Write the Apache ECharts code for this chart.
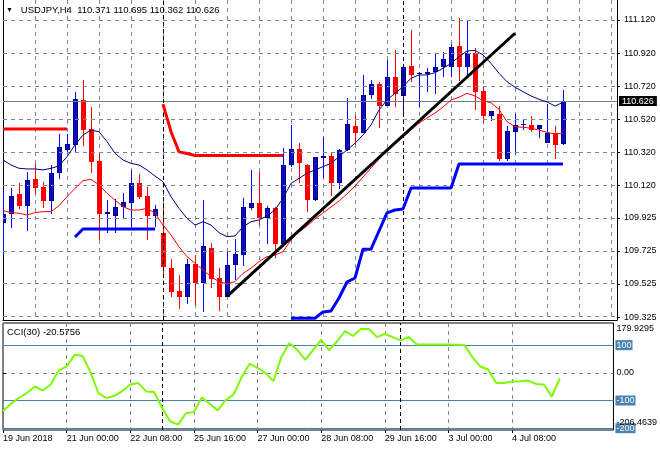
<!DOCTYPE html>
<html><head><meta charset="utf-8">
<script src="https://cdn.jsdelivr.net/npm/echarts@6/dist/echarts.min.js"></script>
<style>html,body{margin:0;padding:0;background:#fff}#c{width:660px;height:450px}</style>
</head><body><div id="c"></div>
<script>
const symbolName = 'USDJPY,H4';
const timeLabels = ['19 Jun 2018','21 Jun 00:00','22 Jun 08:00','25 Jun 16:00','27 Jun 00:00','28 Jun 08:00','29 Jun 16:00','3 Jul 00:00','4 Jul 08:00'];
const labelStep = 8;
const open = [109.895,109.946,110.067,109.998,110.159,110.111,110.028,110.194,110.333,110.365,
110.637,110.461,110.268,109.948,109.938,109.988,110.016,110.133,110.056,109.938,
109.835,109.620,109.483,109.448,109.646,109.533,109.742,109.563,109.448,109.640,
109.700,109.982,110.012,109.925,109.982,109.767,110.244,110.339,110.244,110.032,
110.288,110.298,110.133,110.334,110.479,110.439,110.667,110.733,110.602,110.777,
110.663,110.842,110.792,110.794,110.808,110.834,110.838,110.963,110.834,110.919,
110.691,110.540,110.552,110.280,110.445,110.484,110.486,110.461,110.379,110.435,
110.371];
const high = [110.093,110.103,110.133,110.200,110.248,110.143,110.244,110.431,110.431,110.683,
110.757,110.596,110.321,110.032,110.037,110.073,110.214,110.188,110.113,110.002,
110.012,109.674,109.579,109.674,109.698,110.032,109.774,109.620,109.720,109.795,
110.043,110.214,110.203,109.996,109.988,110.345,110.486,110.375,110.250,110.294,
110.415,110.321,110.340,110.647,110.540,110.788,110.757,110.747,110.878,110.939,
110.848,111.060,110.808,110.828,110.919,110.928,110.975,111.130,111.116,110.949,
110.717,110.570,110.600,110.479,110.552,110.516,110.540,110.486,110.611,110.479,
110.695];
const low = [109.700,109.861,109.976,109.847,110.069,109.986,109.948,110.157,110.320,110.324,
110.359,110.197,109.791,109.835,109.831,109.925,109.861,110.037,109.791,109.871,
109.569,109.448,109.372,109.404,109.398,109.357,109.499,109.363,109.445,109.549,
109.635,109.972,109.881,109.767,109.680,109.750,110.234,110.137,109.958,110.028,
110.163,110.056,110.100,110.330,110.365,110.435,110.641,110.466,110.600,110.596,
110.546,110.747,110.596,110.687,110.673,110.777,110.777,110.750,110.777,110.576,
110.496,110.510,110.268,110.268,110.310,110.455,110.445,110.405,110.379,110.280,
110.362];
const close = [109.948,110.057,109.996,110.153,110.103,110.028,110.194,110.351,110.371,110.643,
110.455,110.264,109.948,109.962,109.992,110.018,110.133,110.052,109.938,109.976,
109.626,109.478,109.448,109.646,109.533,109.754,109.555,109.448,109.640,109.706,
109.992,110.012,109.922,109.982,109.767,110.244,110.339,110.254,110.032,110.290,
110.298,110.133,110.334,110.492,110.439,110.667,110.733,110.602,110.777,110.671,
110.838,110.788,110.802,110.808,110.834,110.882,110.955,110.834,110.919,110.687,
110.540,110.570,110.280,110.449,110.486,110.490,110.455,110.486,110.435,110.365,
110.626];
const maNavy = [110.274,110.244,110.224,110.220,110.220,110.214,110.224,110.238,110.294,110.365,
110.425,110.455,110.445,110.385,110.315,110.274,110.254,110.244,110.214,110.177,
110.143,110.052,109.982,109.922,109.881,109.901,109.881,109.835,109.811,109.815,
109.871,109.901,109.912,109.936,109.972,110.043,110.133,110.163,110.194,110.214,
110.234,110.254,110.294,110.335,110.375,110.425,110.486,110.576,110.637,110.677,
110.717,110.768,110.788,110.788,110.802,110.828,110.858,110.898,110.933,110.936,
110.909,110.858,110.798,110.747,110.713,110.687,110.661,110.641,110.625,110.600,
110.623];
const maRed = [109.968,109.956,109.952,109.942,109.956,109.962,109.962,109.998,110.052,110.103,
110.149,110.157,110.123,110.073,110.032,109.992,109.972,109.972,109.982,109.952,
109.881,109.821,109.750,109.690,109.650,109.609,109.569,109.539,109.525,109.539,
109.589,109.620,109.660,109.690,109.700,109.720,109.791,109.839,109.875,109.918,
109.954,109.990,110.026,110.069,110.117,110.171,110.226,110.280,110.329,110.371,
110.413,110.455,110.498,110.528,110.558,110.594,110.637,110.653,110.677,110.661,
110.632,110.620,110.580,110.506,110.475,110.472,110.466,110.455,110.441,110.431,
110.437];
const stopDown = [110.461,110.461,110.461,110.461,110.461,110.461,110.461,110.461,110.461,null,
null,null,null,null,null,null,null,null,null,null,
110.612,110.445,110.323,110.313,110.301,110.301,110.301,110.301,110.301,110.301,
110.301,110.301,110.301,110.301,110.301,110.301,null,null,null,null,
null,null,null,null,null,null,null,null,null,null,
null,null,null,null,null,null,null,null,null,null,
null,null,null,null,null,null,null,null,null,null,
null];
const stopUp = [null,null,null,null,null,null,null,null,null,109.809,
109.857,109.857,109.857,109.857,109.857,109.857,109.857,109.857,109.857,109.857,
null,null,null,null,null,null,null,null,null,null,
null,null,null,null,null,null,109.318,109.318,109.318,109.318,
109.356,109.362,109.440,109.537,109.561,109.735,109.735,109.845,109.954,109.972,
109.978,110.105,110.105,110.105,110.105,110.105,110.105,110.250,110.250,110.250,
110.250,110.250,110.250,110.250,110.250,110.250,110.250,110.250,110.250,110.250,
110.250];
const trendX = [28, 64];
const trendY = [109.45, 111.04];
const cci = [-139,-112,-90,-73,-49,-64,-42,8,23,65,
61,2,-73,-91,-83,-66,-42,-37,-67,-69,
-126,-175,-187,-146,-141,-89,-112,-136,-98,-78,
-16,33,18,-1,-30,57,107,83,47,83,
119,81,114,151,133,158,158,129,140,129,
117,130,102,102,102,102,102,101,100,57,
23,12,-37,-37,-31,-30,-28,-40,-42,-86,
-20.5756];
const cciPeriod = 30;
const cciLevels = [100, -100, -200];
const priceTicks = [111.12, 110.92, 110.72, 110.52, 110.32, 110.12, 109.925, 109.725, 109.525, 109.325];
const priceMin = 109.3073, priceMax = 111.2408;
const cciMin = -206.4639, cciMax = 179.9295;
const weekSeps = [20, 50];
const xMax = 76.75;

const FONT = '"Liberation Sans", Arial, sans-serif';
const GRID_C = '#778899';
const LEVEL_C = '#4682b4';
const DASH = [4, 4];
const n = close.length;
const last = n - 1;
const pair = arr => arr.map((v, i) => [i, v]);

function renderCandle(params, api) {
  const i = api.value(0), o = api.value(1), c = api.value(2), l = api.value(3), h = api.value(4);
  const pH = api.coord([i, h]), pL = api.coord([i, l]), pO = api.coord([i, o]), pC = api.coord([i, c]);
  const cx = Math.round(pH[0]);
  const bull = c >= o;
  const yH = Math.round(pH[1]), yL = Math.round(pL[1]);
  const top = Math.round(Math.min(pO[1], pC[1])), bot = Math.round(Math.max(pO[1], pC[1]));
  const bh = Math.max(1, bot - top);
  const ch = [{type: 'rect', shape: {x: cx, y: yH, width: 1, height: Math.max(1, yL - yH)}, style: {fill: bull ? '#0000ff' : '#ff0000'}}];
  if (bull) {
    ch.push({type: 'rect', shape: {x: cx - 2, y: top, width: 5, height: bh}, style: {fill: '#000080'}});
    if (bh > 2) ch.push({type: 'rect', shape: {x: cx - 1, y: top + 1, width: 3, height: bh - 2}, style: {fill: '#0a0ac8'}});
  } else {
    ch.push({type: 'rect', shape: {x: cx - 2, y: top, width: 5, height: bh}, style: {fill: '#ff0000'}});
  }
  return {type: 'group', children: ch};
}

const header = '{t|▼}   ' + symbolName + '  ' + [open[last], high[last], low[last], close[last]].map(v => v.toFixed(3)).join(' ');
const cciTitle = 'CCI(' + cciPeriod + ') ' + cci[last].toFixed(4);

const lineBase = {type: 'line', showSymbol: false, symbol: 'none', animation: false, silent: true};
const levelLabel = {show: true, position: 'end', distance: 2, backgroundColor: LEVEL_C, color: '#fff',
  fontSize: 9, padding: [1, 1, 0, 1], fontFamily: FONT};

const option = {
  backgroundColor: '#ffffff',
  animation: false,
  textStyle: {fontFamily: FONT},
  title: [
    {text: header, left: 6, top: 5, padding: 0,
      textStyle: {fontSize: 9.5, fontWeight: 'normal', color: '#000', fontFamily: FONT,
        rich: {t: {fontSize: 7, color: '#000'}}}},
    {text: cciTitle, left: 7, top: 327, padding: 0,
      textStyle: {fontSize: 9.5, fontWeight: 'normal', color: '#000', fontFamily: FONT}}
  ],
  grid: [
    {left: 3, top: 0, width: 614, height: 320, show: false},
    {left: 3, top: 323, width: 614, height: 107, show: true, borderColor: '#000', borderWidth: 1, backgroundColor: 'transparent'}
  ],
  xAxis: [
    {type: 'value', gridIndex: 0, min: 0, max: xMax, interval: 4,
      axisLine: {show: true, onZero: false, lineStyle: {color: '#000'}},
      axisTick: {show: false}, axisLabel: {show: false},
      splitLine: {show: true, lineStyle: {color: GRID_C, type: DASH, width: 1}}},
    {type: 'value', gridIndex: 1, min: 0, max: xMax, interval: 4,
      axisLine: {show: false, onZero: false},
      axisTick: {show: true, customValues: timeLabels.map((_, k) => k * labelStep), length: 3, lineStyle: {color: '#000'}},
      axisLabel: {show: true, customValues: timeLabels.map((_, k) => k * labelStep),
        showMinLabel: true, showMaxLabel: true,
        formatter: v => timeLabels[Math.round(v / labelStep)] || '',
        align: 'left', margin: 4, fontSize: 9, color: '#000', fontFamily: FONT},
      splitLine: {show: true, lineStyle: {color: GRID_C, type: DASH, width: 1}}}
  ],
  yAxis: [
    {type: 'value', gridIndex: 0, position: 'right', min: priceMin, max: priceMax,
      axisLine: {show: true, onZero: false, lineStyle: {color: '#000'}},
      axisTick: {show: true, customValues: priceTicks, length: 3, lineStyle: {color: '#000'}},
      axisLabel: {show: true, customValues: priceTicks, showMinLabel: true, showMaxLabel: true,
        formatter: v => v.toFixed(3), margin: 7, fontSize: 9, color: '#000', fontFamily: FONT},
      splitLine: {show: false}},
    {type: 'value', gridIndex: 0, position: 'left', min: priceMin, max: priceMax,
      axisLine: {show: true, onZero: false, lineStyle: {color: '#000'}},
      axisTick: {show: false}, axisLabel: {show: false}, splitLine: {show: false}},
    {type: 'value', gridIndex: 1, position: 'right', min: cciMin, max: cciMax, z: 10,
      axisLine: {show: false},
      axisTick: {show: true, customValues: [0], length: 3, lineStyle: {color: '#000'}},
      axisLabel: {show: true, customValues: [cciMax, 0, cciMin], margin: 3, fontSize: 9, color: '#000', fontFamily: FONT,
        showMinLabel: true, showMaxLabel: true, hideOverlap: false,
        formatter: v => {
          if (Math.abs(v - cciMax) < 1e-6) return '{tp|' + v.toFixed(4) + '}';
          if (Math.abs(v - cciMin) < 1e-6) return '{bt|' + v.toFixed(4) + '}';
          return v.toFixed(2);
        },
        rich: {
          tp: {fontSize: 9, color: '#000', padding: [12, 0, 0, 0], fontFamily: FONT},
          bt: {fontSize: 9, color: '#000', padding: [0, 0, 14, 0], fontFamily: FONT}
        }},
      splitLine: {show: false}}
  ],
  series: [
    Object.assign({}, lineBase, {name: 'grid', xAxisIndex: 0, yAxisIndex: 0, z: 1,
      data: [[0, priceTicks[0]]], lineStyle: {opacity: 0},
      markLine: {silent: true, symbol: 'none', animation: false, label: {show: false},
        lineStyle: {color: GRID_C, type: DASH, width: 1},
        data: priceTicks.map(v => ({yAxis: v}))}}),
    Object.assign({}, lineBase, {name: 'price', xAxisIndex: 0, yAxisIndex: 0, z: 2,
      data: [[last, close[last]]], lineStyle: {opacity: 0},
      markLine: {silent: true, symbol: 'none', animation: false,
        lineStyle: {color: '#708090', type: 'solid', width: 1},
        label: {show: true, position: 'end', distance: 2, formatter: () => close[last].toFixed(3),
          backgroundColor: '#000', color: '#fff', fontSize: 9, padding: [1, 3, 0, 3], fontFamily: FONT},
        data: [{yAxis: close[last]}]}}),
    Object.assign({}, lineBase, {name: 'sep', xAxisIndex: 0, yAxisIndex: 0, z: 3,
      data: [[0, priceTicks[0]]], lineStyle: {opacity: 0},
      markLine: {silent: true, symbol: 'none', animation: false, label: {show: false},
        lineStyle: {color: '#000', type: [4, 3], width: 1},
        data: weekSeps.map(v => ({xAxis: v}))}}),
    {name: 'candles', type: 'custom', xAxisIndex: 0, yAxisIndex: 0, z: 4, animation: false, silent: true,
      renderItem: renderCandle, encode: {x: 0, y: [1, 2, 3, 4]},
      data: open.map((o, i) => [i, o, close[i], low[i], high[i]]), clip: true},
    Object.assign({}, lineBase, {name: 'maNavy', xAxisIndex: 0, yAxisIndex: 0, z: 5, data: pair(maNavy),
      lineStyle: {color: '#000080', width: 1}}),
    Object.assign({}, lineBase, {name: 'maRed', xAxisIndex: 0, yAxisIndex: 0, z: 5, data: pair(maRed),
      lineStyle: {color: '#ff0000', width: 1}}),
    Object.assign({}, lineBase, {name: 'stopDown', xAxisIndex: 0, yAxisIndex: 0, z: 6, data: pair(stopDown), connectNulls: false,
      lineStyle: {color: '#ff0000', width: 3}}),
    Object.assign({}, lineBase, {name: 'stopUp', xAxisIndex: 0, yAxisIndex: 0, z: 6, data: pair(stopUp), connectNulls: false,
      lineStyle: {color: '#0000ff', width: 3}}),
    Object.assign({}, lineBase, {name: 'trend', xAxisIndex: 0, yAxisIndex: 0, z: 7,
      data: trendX.map((x, k) => [x, trendY[k]]), lineStyle: {color: '#000', width: 3}}),
    Object.assign({}, lineBase, {name: 'cciGrid', xAxisIndex: 1, yAxisIndex: 2, z: 2,
      data: [[0, 0]], lineStyle: {opacity: 0},
      markLine: {silent: true, symbol: 'none', animation: false, label: {show: false},
        data: [
          {yAxis: 0, lineStyle: {color: GRID_C, type: DASH, width: 1}}
        ].concat(cciLevels.map(v => ({yAxis: v, lineStyle: {color: LEVEL_C, type: 'solid', width: 1},
            label: Object.assign({}, levelLabel, {formatter: String(v)})})))
          .concat(weekSeps.map(v => ({xAxis: v, lineStyle: {color: '#000', type: [4, 3], width: 1}})))}}),
    Object.assign({}, lineBase, {name: 'cci', xAxisIndex: 1, yAxisIndex: 2, z: 5, data: pair(cci),
      lineStyle: {color: '#7cfc00', width: 2}})
  ]
};
const chart = echarts.init(document.getElementById('c'), null, {renderer: 'canvas'});
chart.setOption(option);
</script></body></html>
